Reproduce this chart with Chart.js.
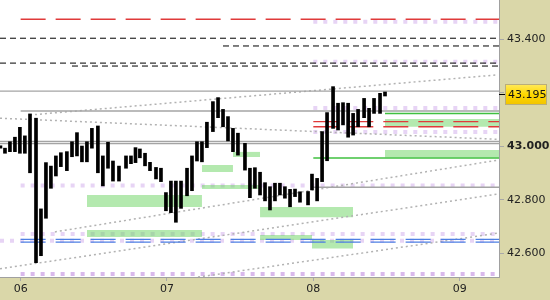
<!DOCTYPE html>
<html>
<head>
<meta charset="utf-8">
<script src="https://cdn.jsdelivr.net/npm/chart.js@4/dist/chart.umd.min.js"></script>
<style>
html,body{margin:0;padding:0;background:#dad7a9;}
#wrap{width:550px;height:300px;}
</style>
</head>
<body>
<div id="wrap"><canvas id="c" width="550" height="300"></canvas></div>
<script>
// ---- data ----
const xMin = 5.859, xMax = 9.269;
const yMin = 42.5114, yMax = 43.5469;
const xTicks = [6, 7, 8, 9];
const xTickLabels = ['06', '07', '08', '09'];
const yTicks = [42.6, 42.8, 43.0, 43.2, 43.4];
const lastPrice = 43.195;

const barX = [5.862,5.893,5.927,5.961,5.995,6.029,6.064,6.105,6.139,6.173,6.207,6.241,6.275,6.316,6.351,6.385,6.419,6.453,6.487,6.528,6.562,6.597,6.631,6.672,6.720,6.754,6.785,6.815,6.850,6.884,6.925,6.959,6.993,7.027,7.061,7.096,7.137,7.171,7.205,7.239,7.273,7.314,7.349,7.383,7.417,7.451,7.485,7.533,7.567,7.601,7.636,7.670,7.704,7.738,7.772,7.806,7.841,7.875,7.909,7.964,7.991,8.026,8.060,8.094,8.135,8.169,8.203,8.238,8.272,8.306,8.347,8.381,8.415,8.456,8.490];
const barHigh = [43.002,42.993,43.017,43.034,43.071,43.039,43.121,43.105,42.766,42.939,
  42.926,42.964,42.976,42.980,43.017,43.051,43.001,43.017,43.067,43.076,
  42.964,43.015,42.945,42.926,42.964,42.964,42.995,42.990,42.974,42.940,
  42.921,42.918,42.827,42.870,42.870,42.870,42.918,42.964,43.017,43.017,
  43.090,43.167,43.182,43.138,43.111,43.067,43.049,43.011,42.918,42.920,
  42.903,42.864,42.849,42.862,42.862,42.849,42.839,42.840,42.830,42.831,
  42.896,42.880,43.055,43.126,43.223,43.161,43.163,43.161,43.123,43.138,
  43.179,43.142,43.179,43.198,43.203];
const barLow = [42.993,42.974,42.980,42.980,42.974,42.974,42.901,42.565,42.591,42.731,
  42.843,42.889,42.924,42.909,42.961,42.964,42.942,42.942,42.993,42.901,
  42.852,42.918,42.870,42.870,42.918,42.935,42.939,42.957,42.927,42.909,
  42.878,42.868,42.759,42.752,42.716,42.768,42.815,42.834,42.945,42.942,
  42.995,43.055,43.107,43.073,43.020,42.980,42.967,42.911,42.808,42.843,
  42.818,42.796,42.762,42.796,42.818,42.806,42.774,42.812,42.791,42.781,
  42.837,42.796,42.868,42.946,43.067,43.061,43.080,43.034,43.042,43.073,
  43.107,43.073,43.123,43.123,43.188];

const redDashLevels = [43.475, 43.092, 43.073];
const redDashStart  = [6.0, 8.0, 8.0];
const blackDashLevels = [43.404, 43.375, 43.311, 43.300];
const blackDashStart  = [5.859, 7.383, 5.859, 6.351];
const grayLevels = [43.206, 43.132, 43.018, 43.010, 42.847];
const grayStart  = [5.859, 6.0, 5.859, 5.859, 8.0];
const greenLevels = [43.123, 42.956];
const greenStart  = [8.49, 8.0];
const blueLevels = [42.652, 42.642];
const blueStart  = [6.0, 6.0];
const purpleLevels = [43.466, 43.316, 43.143, 43.053, 42.853, 42.672, 42.647];
const purpleStart  = [8.0, 8.0, 8.0, 8.0, 6.0, 6.0, 5.859];
const purpleDarkLevels = [42.523];
const purpleDarkStart  = [6.0];

const zoneStart  = [6.453, 6.453, 7.239, 7.451, 7.239, 7.636, 7.636, 7.991, 8.490, 8.490];
const zoneEnd    = [7.239, 7.239, 7.451, 7.636, 7.636, 8.272, 7.991, 8.272, 9.269, 9.269];
const zoneTop    = [42.818, 42.687, 42.930, 42.979, 42.855, 42.773, 42.668, 42.650, 43.102, 42.986];
const zoneBottom = [42.773, 42.661, 42.904, 42.960, 42.840, 42.735, 42.650, 42.618, 43.073, 42.958];

const trendX1 = [5.859, 6.064, 6.234, 5.859, 7.212];
const trendY1 = [43.105, 43.117, 42.680, 42.542, 42.511];
const trendX2 = [9.269, 9.256, 9.269, 9.269, 9.269];
const trendY2 = [43.026, 43.267, 42.949, 42.822, 42.676];

// ---- build datasets ----
const FONT = 'DejaVu Sans';
const datasets = [];
function hline(levels, starts, style, order) {
  levels.forEach((v, i) => {
    datasets.push(Object.assign({
      type: 'line',
      data: [{x: starts[i], y: v}, {x: xMax, y: v}],
      pointRadius: 0, fill: false, tension: 0, order: order,
      borderCapStyle: 'butt'
    }, style));
  });
}
// purple squares (bottom-most)
hline(purpleLevels, purpleStart, {borderColor: '#e7d4f5', borderWidth: 4, borderDash: [4, 6]}, 5);
hline(purpleDarkLevels, purpleDarkStart, {borderColor: '#d9b9ec', borderWidth: 4, borderDash: [4, 6]}, 5);
// green zones
zoneStart.forEach((s, i) => {
  datasets.push({
    type: 'line',
    data: [{x: s, y: zoneTop[i]}, {x: zoneEnd[i], y: zoneTop[i]}],
    pointRadius: 0, borderWidth: 0, borderColor: 'rgba(0,0,0,0)',
    fill: {value: zoneBottom[i]},
    backgroundColor: 'rgba(105,212,95,0.5)', order: 4
  });
});
// trend lines
trendX1.forEach((x1, i) => {
  datasets.push({
    type: 'line',
    data: [{x: x1, y: trendY1[i]}, {x: trendX2[i], y: trendY2[i]}],
    pointRadius: 0, fill: false, borderColor: '#b2b2b2', borderWidth: 1.5,
    borderDash: [2, 3], order: 3
  });
});
hline(grayLevels, grayStart, {borderColor: '#a4a4a4', borderWidth: 1.3}, 2);
hline(blackDashLevels, blackDashStart, {borderColor: '#000', borderWidth: 1, borderDash: [6, 4]}, 2);
hline(redDashLevels, redDashStart, {borderColor: '#e03a3a', borderWidth: 1.3, borderDash: [25, 10]}, 2);
hline(blueLevels, blueStart, {borderColor: '#4d7fe3', borderWidth: 1.2, borderDash: [25, 10]}, 2);
hline(greenLevels, greenStart, {borderColor: '#3fc03f', borderWidth: 1.5}, 2);
// price bars
datasets.push({
  type: 'bar',
  data: barX.map((x, i) => ({x: x, y: [barLow[i], barHigh[i]]})),
  backgroundColor: '#000', borderWidth: 0, barThickness: 3, grouped: false, order: 0
});

const bgPlugin = {
  id: 'bgPlugin',
  beforeDraw(c) {
    const {ctx, chartArea: a} = c;
    ctx.save();
    ctx.fillStyle = '#dad7a9';
    ctx.fillRect(0, 0, c.width, c.height);
    ctx.fillStyle = '#ffffff';
    ctx.fillRect(a.left, a.top, a.right - a.left, a.bottom - a.top);
    ctx.restore();
  }
};
const lastPlugin = {
  id: 'lastPlugin',
  afterDraw(c) {
    const {ctx, chartArea: a} = c;
    const y = Math.round(c.scales.y.getPixelForValue(lastPrice)) + 0.5;
    ctx.save();
    ctx.strokeStyle = '#000'; ctx.lineWidth = 1;
    ctx.beginPath(); ctx.moveTo(a.right, y); ctx.lineTo(a.right + 6, y); ctx.stroke();
    const g = ctx.createLinearGradient(0, y - 10, 0, y + 10);
    g.addColorStop(0, '#ffe95a'); g.addColorStop(0.5, '#ffd800'); g.addColorStop(1, '#f2c400');
    ctx.fillStyle = g;
    ctx.fillRect(a.right + 6.5, y - 10, 41, 20);
    ctx.strokeStyle = '#b9ae7a';
    ctx.strokeRect(a.right + 6.5, y - 10, 41, 20);
    ctx.fillStyle = '#111';
    ctx.font = '11px "' + FONT + '"';
    ctx.textBaseline = 'middle'; ctx.textAlign = 'left';
    ctx.fillText(lastPrice.toFixed(3), a.right + 9, y + 0.5);
    ctx.restore();
  }
};

Chart.defaults.font.family = FONT;
Chart.defaults.font.size = 11;

new Chart(document.getElementById('c'), {
  type: 'bar',
  data: {datasets: datasets},
  plugins: [bgPlugin, lastPlugin],
  options: {
    responsive: false, animation: false, devicePixelRatio: 1,
    layout: {padding: 0},
    plugins: {legend: {display: false}, tooltip: {enabled: false}},
    scales: {
      x: {
        type: 'linear', min: xMin, max: xMax, offset: false,
        afterBuildTicks: s => { s.ticks = xTicks.map(v => ({value: v})); },
        ticks: {
          callback: v => xTickLabels[xTicks.indexOf(v)],
          autoSkip: false, maxRotation: 0, padding: 2, color: '#222'
        },
        grid: {drawOnChartArea: false, tickLength: 4, color: '#a8a8a8', offset: false},
        border: {color: '#a0a0a0'},
        afterFit: s => { s.height = 23; s.paddingLeft = 0; s.paddingRight = 0; }
      },
      y: {
        type: 'linear', position: 'right', min: yMin, max: yMax,
        afterBuildTicks: s => { s.ticks = yTicks.map(v => ({value: v})); },
        ticks: {
          callback: v => v.toFixed(3), padding: 3, color: '#222',
          font: ctx => ({family: FONT, size: 11, weight: (ctx.tick && Math.abs(ctx.tick.value - 43) < 1e-9) ? 'bold' : 'normal'})
        },
        grid: {drawOnChartArea: false, tickLength: 5, color: '#a8a8a8'},
        border: {color: '#a0a0a0'},
        afterFit: s => { s.width = 51; s.paddingTop = 0; s.paddingBottom = 0; }
      }
    }
  }
});
</script>
</body>
</html>
